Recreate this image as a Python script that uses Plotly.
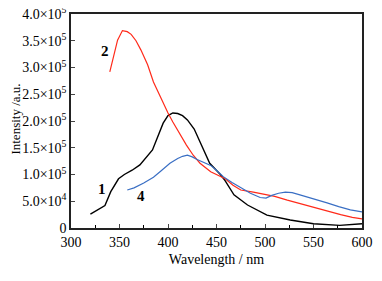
import plotly.graph_objects as go

# Curve 1 (black)
x1 = [320, 327, 335, 341, 349, 355, 363, 371, 384, 395, 400, 405, 410, 415, 420, 427, 433, 443, 454, 459, 468, 482, 502, 526, 550, 577, 600]
y1 = [0.26e5, 0.33e5, 0.42e5, 0.68e5, 0.92e5, 1.00e5, 1.08e5, 1.18e5, 1.46e5, 1.96e5, 2.10e5, 2.15e5, 2.14e5, 2.10e5, 2.02e5, 1.85e5, 1.60e5, 1.21e5, 1.00e5, 0.88e5, 0.62e5, 0.43e5, 0.24e5, 0.15e5, 0.08e5, 0.05e5, 0.08e5]

# Curve 2 (red)
x2 = [340, 344, 348, 353, 358, 362, 367, 372, 379, 385, 392, 400, 405, 410, 419, 426, 433, 444, 454, 459, 467, 475, 488, 498, 510, 523, 537, 550, 565, 578, 590, 600]
y2 = [2.92e5, 3.20e5, 3.51e5, 3.69e5, 3.67e5, 3.62e5, 3.50e5, 3.33e5, 3.05e5, 2.73e5, 2.45e5, 2.15e5, 1.98e5, 1.82e5, 1.55e5, 1.36e5, 1.21e5, 1.05e5, 0.96e5, 0.92e5, 0.80e5, 0.71e5, 0.67e5, 0.64e5, 0.59e5, 0.52e5, 0.45e5, 0.38e5, 0.31e5, 0.25e5, 0.20e5, 0.17e5]

# Curve 4 (blue)
x4 = [358, 365, 375, 385, 393, 402, 410, 415, 420, 425, 430, 437, 444, 450, 457, 466, 475, 485, 495, 501, 507, 514, 521, 528, 536, 550, 564, 576, 588, 600]
y4 = [0.71e5, 0.75e5, 0.84e5, 0.95e5, 1.07e5, 1.21e5, 1.30e5, 1.34e5, 1.36e5, 1.33e5, 1.28e5, 1.22e5, 1.17e5, 1.08e5, 0.96e5, 0.85e5, 0.75e5, 0.65e5, 0.57e5, 0.56e5, 0.61e5, 0.65e5, 0.67e5, 0.66e5, 0.62e5, 0.55e5, 0.47e5, 0.40e5, 0.34e5, 0.30e5]

y_tickvals = [0, 0.5e5, 1.0e5, 1.5e5, 2.0e5, 2.5e5, 3.0e5, 3.5e5, 4.0e5]
y_ticktext = ["0", "5.0×10<sup>4</sup>", "1.0×10<sup>5</sup>", "1.5×10<sup>5</sup>", "2.0×10<sup>5</sup>",
              "2.5×10<sup>5</sup>", "3.0×10<sup>5</sup>", "3.5×10<sup>5</sup>", "4.0×10<sup>5</sup>"]
x_tickvals = [300, 350, 400, 450, 500, 550, 600]

font = "Liberation Serif"

fig = go.Figure()
fig.add_trace(go.Scatter(x=x1, y=y1, mode="lines", line=dict(color="black", width=1.4), showlegend=False))
fig.add_trace(go.Scatter(x=x2, y=y2, mode="lines", line=dict(color="#ff2a1a", width=1.2), showlegend=False))
fig.add_trace(go.Scatter(x=x4, y=y4, mode="lines", line=dict(color="#3a6fc4", width=1.2), showlegend=False))

for txt, xv, yv in [("2", 335, 3.3e5), ("1", 332, 0.72e5), ("4", 372, 0.6e5)]:
    fig.add_annotation(x=xv, y=yv, text="<b>" + txt + "</b>", showarrow=False,
                       font=dict(family=font, size=15, color="black"))

# y-axis title as a rotated annotation
fig.add_annotation(xref="paper", yref="paper", x=-0.19, y=0.51, text="Intensity /a.u.",
                   textangle=-90, showarrow=False, xanchor="center", yanchor="middle",
                   font=dict(family=font, size=13, color="black"))

fig.update_layout(
    width=382, height=281,
    margin=dict(l=63, r=28, t=6, b=61),
    plot_bgcolor="white", paper_bgcolor="white",
    font=dict(family=font, size=14, color="black"),
    xaxis=dict(range=[300, 600], tickvals=x_tickvals, ticks="inside", ticklen=4, automargin=False,
               ticklabeloverflow="allow",
               showline=True, linecolor="#222", linewidth=1.5, mirror=True,
               showgrid=False, zeroline=False, tickfont=dict(size=14),
               minor=dict(tickvals=[325, 375, 425, 475, 525, 575], ticks="inside", ticklen=3, tickcolor="black"),
               title=dict(text="Wavelength / nm", standoff=6, font=dict(size=14))),
    yaxis=dict(range=[0, 4.0e5], tickvals=y_tickvals, ticktext=y_ticktext, ticks="inside", ticklen=4, automargin=False,
               ticklabeloverflow="allow",
               showline=True, linecolor="#222", linewidth=1.5, mirror=True,
               showgrid=False, zeroline=False, tickfont=dict(size=14)),
)

fig.write_html("out.html")
